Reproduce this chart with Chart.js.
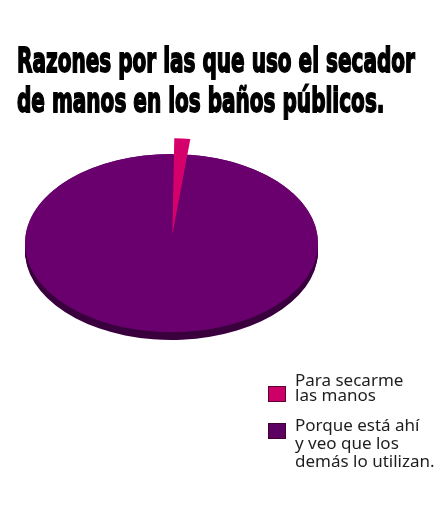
<!DOCTYPE html>
<html>
<head>
<meta charset="utf-8">
<script src="https://cdn.jsdelivr.net/npm/chart.js@4/dist/chart.umd.min.js"></script>
<style>
  html, body { margin: 0; padding: 0; background: #ffffff; }
  #wrap { width: 440px; height: 520px; position: relative; }
</style>
</head>
<body>
<div id="wrap"><canvas id="c" width="440" height="520"></canvas></div>
<script>
// ---- data ----
const titleLines = ["Razones por las que uso el secador", "de manos en los baños públicos."];
const categories = [["Para secarme", "las manos"], ["Porque está ahí", "y veo que los", "demás lo utilizan."]];
const values = [2, 98];
const sliceColors = ["#d6006c", "#69006e"];
const sideColors = ["#8a0046", "#4c0052"];
const legendColors = ["#cc0066", "#5c0062"];
const explode = [55, 0];

// ---- layout constants ----
const CX = 171.5, CY = 243, R = 146.5, K = 89 / 146.5, DEPTH = 8;

function effOffset(arc) {
  const off = (arc.options.offset || 0) / 4;
  const circ = arc.endAngle - arc.startAngle;
  const fix = 1 - Math.sin(Math.min(Math.PI, circ || 0));
  return off * (1 + fix);
}

const pie3d = {
  id: 'pie3d',
  beforeDatasetsDraw(chart) {
    const ctx = chart.ctx;
    const meta = chart.getDatasetMeta(0);
    // side (depth) of the front half
    ctx.save();
    ctx.beginPath();
    ctx.rect(0, CY, chart.width, chart.height - CY);
    ctx.clip();
    meta.data.forEach((arc, i) => {
      const p = arc.getProps(['x', 'y', 'startAngle', 'endAngle', 'outerRadius']);
      const off = effOffset(arc);
      const mid = (p.startAngle + p.endAngle) / 2;
      const ox = Math.cos(mid) * off, oy = Math.sin(mid) * off;
      for (let s = 1; s <= DEPTH; s++) {
        ctx.save();
        ctx.translate(0, s);
        ctx.translate(0, CY); ctx.scale(1, K); ctx.translate(0, -CY);
        ctx.beginPath();
        ctx.moveTo(p.x + ox, p.y + oy);
        ctx.arc(p.x + ox, p.y + oy, p.outerRadius, p.startAngle, p.endAngle);
        ctx.closePath();
        ctx.fillStyle = s === DEPTH ? '#3a003e' : sideColors[i];
        ctx.fill();
        ctx.restore();
      }
    });
    ctx.restore();
    // squash the face into an ellipse
    ctx.save();
    ctx.translate(0, CY); ctx.scale(1, K); ctx.translate(0, -CY);
    // base disc under the exploded slice (fills the gap it leaves)
    const big = meta.data[1].getProps(['x', 'y', 'outerRadius']);
    ctx.beginPath();
    ctx.arc(big.x, big.y, big.outerRadius, 0, Math.PI * 2);
    ctx.fillStyle = sliceColors[1];
    ctx.fill();
  },
  afterDatasetsDraw(chart) {
    chart.ctx.restore();
  },
  afterDraw(chart) {
    const ctx = chart.ctx;
    // title
    ctx.save();
    ctx.font = 'bold 34px "DejaVu Sans"';
    ctx.fillStyle = '#000';
    ctx.strokeStyle = '#000';
    ctx.lineWidth = 1.8;
    ctx.textBaseline = 'alphabetic';
    const sx = 398 / ctx.measureText(titleLines[0]).width;
    const baselines = [72, 112];
    titleLines.forEach((t, i) => {
      ctx.save();
      ctx.translate(17, baselines[i]);
      ctx.scale(sx, 1);
      ctx.fillText(t, 0, 0);
      ctx.strokeText(t, 0, 0);
      ctx.restore();
    });
    ctx.restore();
    // legend
    ctx.save();
    ctx.font = '17px "Noto Sans"';
    ctx.textBaseline = 'alphabetic';
    const firstBase = [386, 431];
    const boxY = [386, 423];
    const lh = [15, 18];
    categories.forEach((lines, i) => {
      ctx.fillStyle = legendColors[i];
      ctx.fillRect(268, boxY[i], 18, 16);
      ctx.strokeStyle = 'rgba(60,0,40,0.8)';
      ctx.lineWidth = 1;
      ctx.strokeRect(268.5, boxY[i] + 0.5, 17, 15);
      ctx.fillStyle = '#1e1e1e';
      lines.forEach((ln, j) => ctx.fillText(ln, 295, firstBase[i] + j * lh[i]));
    });
    ctx.restore();
  }
};

new Chart(document.getElementById('c'), {
  type: 'pie',
  data: {
    labels: categories,
    datasets: [{
      data: values,
      backgroundColor: sliceColors,
      borderWidth: 0,
      offset: explode,
      clip: false
    }]
  },
  options: {
    responsive: false,
    animation: false,
    devicePixelRatio: 1,
    radius: R,
    layout: { padding: { left: 0, right: 440 - 2 * CX, top: 0, bottom: 520 - 2 * CY } },
    plugins: { legend: { display: false }, tooltip: { enabled: false }, title: { display: false } }
  },
  plugins: [pie3d]
});
</script>
</body>
</html>
